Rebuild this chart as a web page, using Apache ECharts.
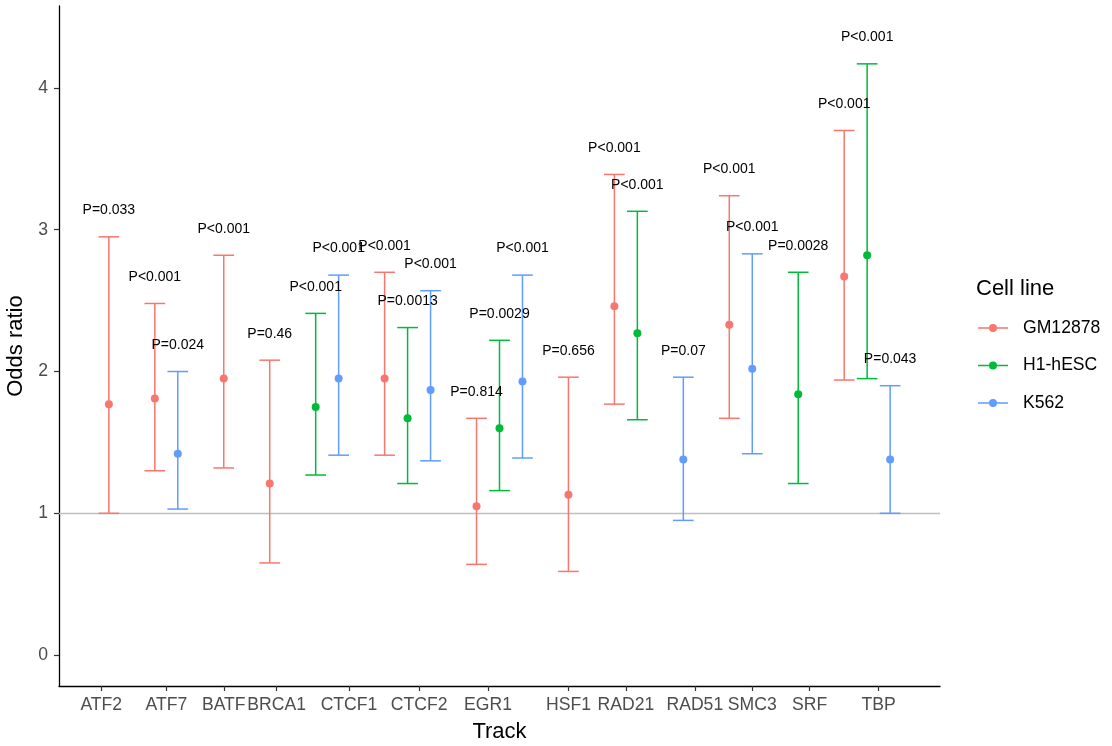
<!DOCTYPE html>
<html>
<head>
<meta charset="utf-8">
<script src="https://cdn.jsdelivr.net/npm/echarts@6/dist/echarts.min.js"></script>
<style>html,body{margin:0;padding:0;background:#fff}#c{width:1112px;height:746px}</style>
</head>
<body>
<div id="c"></div>
<script>
// ---- data ----
const tracks = ['ATF2','ATF7','BATF','BRCA1','CTCF1','CTCF2','EGR1','HSF1','RAD21','RAD51','SMC3','SRF','TBP'];
const trackTickPos = [-0.33, 2.5, 5.0, 7.3, 10.45, 13.5, 16.5, 20.0, 22.5, 25.5, 28.0, 30.5, 33.5];
const yTicks = [0, 1, 2, 3, 4];
const cellLines = ['GM12878', 'H1-hESC', 'K562'];

const gmPos   = [0, 2, 5, 7, 12, 16, 20, 22, 27, 32];
const gmOR    = [1.77, 1.81, 1.95, 1.21, 1.95, 1.05, 1.13, 2.46, 2.33, 2.67];
const gmLow   = [1.00, 1.30, 1.32, 0.65, 1.41, 0.64, 0.59, 1.77, 1.67, 1.94];
const gmHigh  = [2.95, 2.48, 2.82, 2.08, 2.70, 1.67, 1.96, 3.39, 3.24, 3.70];
const gmP     = ['P=0.033','P<0.001','P<0.001','P=0.46','P<0.001','P=0.814','P=0.656','P<0.001','P<0.001','P<0.001'];

const h1Pos   = [9, 13, 17, 23, 30, 33];
const h1OR    = [1.75, 1.67, 1.60, 2.27, 1.84, 2.82];
const h1Low   = [1.27, 1.21, 1.16, 1.66, 1.21, 1.95];
const h1High  = [2.41, 2.31, 2.22, 3.13, 2.70, 4.17];
const h1P     = ['P<0.001','P=0.0013','P=0.0029','P<0.001','P=0.0028','P<0.001'];

const kPos    = [3, 10, 14, 18, 25, 28, 34];
const kOR     = [1.42, 1.95, 1.87, 1.93, 1.38, 2.02, 1.38];
const kLow    = [1.03, 1.41, 1.37, 1.39, 0.95, 1.42, 1.00];
const kHigh   = [2.00, 2.68, 2.57, 2.68, 1.96, 2.83, 1.90];
const kP      = ['P=0.024','P<0.001','P<0.001','P<0.001','P=0.07','P<0.001','P=0.043'];

const refLine = 1;

// ---- styling ----
const colors = ['#F8766D', '#00BA38', '#619CFF'];
const FONT = '"Liberation Sans", Arial, Helvetica, sans-serif';
const CAP = 0.45;

const groups = [
  {pos: gmPos, or: gmOR, lo: gmLow, hi: gmHigh, p: gmP},
  {pos: h1Pos, or: h1OR, lo: h1Low, hi: h1High, p: h1P},
  {pos: kPos,  or: kOR,  lo: kLow,  hi: kHigh,  p: kP}
];

const series = [];
groups.forEach((g, gi) => {
  const name = cellLines[gi];
  const color = colors[gi];
  const rows = g.pos.map((x, i) => [x, g.or[i], g.lo[i], g.hi[i]]);
  series.push({
    name, type: 'custom', z: 2, silent: true,
    data: rows,
    encode: {x: 0, y: [2, 3]},
    renderItem: (params, api) => {
      const x = api.value(0), lo = api.value(2), hi = api.value(3);
      const pLo = api.coord([x, lo]), pHi = api.coord([x, hi]);
      const xl = api.coord([x - CAP, hi])[0], xr = api.coord([x + CAP, hi])[0];
      const st = {stroke: color, lineWidth: 1.5};
      return {type: 'group', children: [
        {type: 'line', shape: {x1: pLo[0], y1: pLo[1], x2: pHi[0], y2: pHi[1]}, style: st},
        {type: 'line', shape: {x1: xl, y1: pHi[1], x2: xr, y2: pHi[1]}, style: st},
        {type: 'line', shape: {x1: xl, y1: pLo[1], x2: xr, y2: pLo[1]}, style: st}
      ]};
    },
    markLine: gi === 0 ? {
      silent: true, symbol: 'none', label: {show: false},
      lineStyle: {color: '#BEBEBE', width: 1.3, type: 'solid'},
      data: [{yAxis: refLine}], z: 1
    } : undefined
  });
  series.push({
    name, type: 'scatter', z: 3, silent: true,
    symbol: 'circle', symbolSize: 8,
    itemStyle: {color: color, opacity: 1},
    data: rows.map(r => [r[0], r[1]])
  });
  series.push({
    name, type: 'custom', z: 4, silent: true,
    data: rows,
    encode: {x: 0, y: 3},
    renderItem: (params, api) => {
      const x = api.value(0), hi = api.value(3);
      const p = api.coord([x, hi]);
      return {type: 'text', x: p[0], y: p[1] - 26.5,
        style: {text: g.p[params.dataIndex], align: 'center', verticalAlign: 'middle',
                fontSize: 14, fontFamily: FONT, fill: '#000'}};
    }
  });
});

const legendIcon = 'path://M0,4.25L30,4.25L30,5.75L0,5.75Z M11,5A4,4 0 1,1 19,5A4,4 0 1,1 11,5Z';

const chart = echarts.init(document.getElementById('c'), null, {renderer: 'canvas'});
chart.setOption({
  animation: false,
  backgroundColor: '#fff',
  color: colors,
  title: {
    text: 'Cell line', left: 976, top: 278, padding: 0,
    textStyle: {fontSize: 22, fontWeight: 'normal', color: '#000', fontFamily: FONT}
  },
  legend: {
    orient: 'vertical', left: 978, top: 319, padding: 0,
    itemWidth: 30, itemHeight: 8, itemGap: 19.5,
    selectedMode: false,
    data: cellLines.map((n, i) => ({name: n, icon: legendIcon, itemStyle: {color: colors[i]}})),
    textStyle: {fontSize: 17.6, color: '#000', fontFamily: FONT, padding: [0, 0, 0, 10]}
  },
  grid: {left: 59, right: 172, top: 6, bottom: 60, containLabel: false, outerBoundsMode: 'none'},
  xAxis: {
    type: 'value', min: -2.17, max: 36.17,
    name: 'Track', nameLocation: 'middle', nameGap: 35,
    nameTextStyle: {fontSize: 22, color: '#000', fontFamily: FONT},
    axisLine: {show: true, onZero: false, lineStyle: {color: '#000', width: 1.3}},
    axisTick: {show: true, length: 5, lineStyle: {color: '#333', width: 1.2}, customValues: trackTickPos},
    axisLabel: {
      customValues: trackTickPos, margin: 10,
      fontSize: 17.6, color: '#4D4D4D', fontFamily: FONT,
      formatter: (v) => {
        const i = trackTickPos.findIndex(t => Math.abs(t - v) < 1e-6);
        return i >= 0 ? tracks[i] : '';
      }
    },
    splitLine: {show: false}
  },
  yAxis: {
    type: 'value', min: -0.218, max: 4.578,
    name: 'Odds ratio', nameLocation: 'middle', nameGap: 24, nameRotate: 90,
    nameTextStyle: {fontSize: 22, color: '#000', fontFamily: FONT},
    axisLine: {show: true, onZero: false, lineStyle: {color: '#000', width: 1.3}},
    axisTick: {show: true, length: 5, lineStyle: {color: '#333', width: 1.2}, customValues: yTicks},
    axisLabel: {customValues: yTicks, margin: 11, fontSize: 17.6, color: '#4D4D4D', fontFamily: FONT},
    splitLine: {show: false}
  },
  series
});
</script>
</body>
</html>
